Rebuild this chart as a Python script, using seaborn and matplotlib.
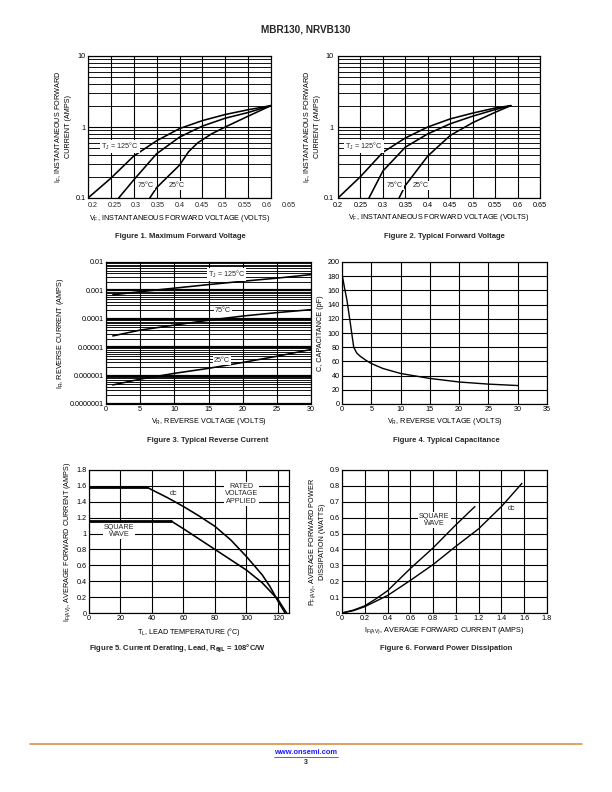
import numpy as np
import pandas as pd
import matplotlib
matplotlib.use('Agg')
import matplotlib.pyplot as plt
import seaborn as sns
from matplotlib.ticker import LogLocator, NullFormatter, FixedLocator

# figure 1 - maximum forward voltage
f1_125_v = [0.20, 0.25, 0.30, 0.35, 0.40, 0.45, 0.50, 0.55, 0.60]
f1_125_i = [0.10, 0.19, 0.39, 0.64, 0.95, 1.23, 1.50, 1.75, 2.00]
f1_75_v = [0.267, 0.30, 0.35, 0.40, 0.45, 0.50, 0.55, 0.60]
f1_75_i = [0.10, 0.18, 0.42, 0.72, 1.03, 1.33, 1.60, 2.00]
f1_25_v = [0.335, 0.35, 0.40, 0.42, 0.44, 0.47, 0.50, 0.55, 0.60]
f1_25_i = [0.10, 0.14, 0.29, 0.45, 0.60, 0.80, 1.00, 1.42, 2.00]

# figure 2 - typical forward voltage
f2_125_v = [0.20, 0.25, 0.30, 0.35, 0.40, 0.45, 0.50, 0.55, 0.585]
f2_125_i = [0.10, 0.20, 0.44, 0.70, 1.00, 1.30, 1.57, 1.85, 2.00]
f2_75_v = [0.269, 0.30, 0.35, 0.40, 0.45, 0.50, 0.55, 0.585]
f2_75_i = [0.10, 0.24, 0.52, 0.80, 1.11, 1.42, 1.76, 2.00]
f2_25_v = [0.336, 0.35, 0.40, 0.45, 0.50, 0.55, 0.585]
f2_25_i = [0.10, 0.15, 0.39, 0.76, 1.15, 1.61, 2.00]

vf_labels = ['0.2', '0.25', '0.3', '0.35', '0.4', '0.45', '0.5', '0.55', '0.6', '0.65']

# figure 3 - typical reverse current
f3_vr = [1, 5, 10, 15, 20, 25, 30]
f3_125 = [7.0e-4, 9.0e-4, 1.2e-3, 1.6e-3, 2.1e-3, 2.7e-3, 3.6e-3]
f3_75 = [2.5e-5, 4.0e-5, 6.0e-5, 8.9e-5, 1.25e-4, 1.65e-4, 2.1e-4]
f3_25 = [4.7e-7, 7.5e-7, 1.2e-6, 1.8e-6, 2.9e-6, 4.8e-6, 8.3e-6]
ir_labels = ['0.0000001', '0.000001', '0.00001', '0.0001', '0.001', '0.01']

# figure 4 - typical capacitance
f4_vr = [0, 0.4, 0.85, 1.4, 2.0, 2.5, 3.0, 4.0, 5.0, 7.0, 10, 15, 20, 25, 30]
f4_c = [183, 165, 146, 115, 80, 72, 68, 62, 57, 50, 43, 36, 31, 28, 26]

# figure 5 - current derating
f5_dc_t = [0, 37, 50, 60, 70, 80, 90, 100, 110, 115, 120, 124.5]
f5_dc_i = [1.58, 1.58, 1.45, 1.34, 1.22, 1.09, 0.92, 0.71, 0.48, 0.33, 0.15, 0.0]
f5_sq_t = [0, 52, 60, 70, 80, 90, 100, 110, 120, 125.5]
f5_sq_i = [1.16, 1.16, 1.06, 0.93, 0.80, 0.67, 0.54, 0.38, 0.17, 0.0]

# figure 6 - forward power dissipation
f6_sq_i = [0, 0.1, 0.2, 0.3, 0.4, 0.6, 0.8, 1.0, 1.167]
f6_sq_p = [0, 0.018, 0.045, 0.09, 0.14, 0.28, 0.41, 0.555, 0.67]
f6_dc_i = [0, 0.1, 0.2, 0.4, 0.6, 0.8, 1.0, 1.2, 1.4, 1.58]
f6_dc_p = [0, 0.015, 0.04, 0.11, 0.205, 0.305, 0.42, 0.53, 0.67, 0.816]

sns.set_style('white')
plt.rcParams['font.family'] = ['Liberation Sans', 'DejaVu Sans']
plt.rcParams['mathtext.fontset'] = 'custom'
plt.rcParams['mathtext.rm'] = 'Liberation Sans'
plt.rcParams['mathtext.it'] = 'Liberation Sans'

fig = plt.figure(figsize=(8.5, 11), dpi=72)
W, H = 612.0, 792.0


def make_ax(l, r, t, b):
    ax = fig.add_axes([l / W, 1 - b / H, (r - l) / W, (b - t) / H])
    for s in ax.spines.values():
        s.set_color('black')
        s.set_linewidth(1.2)
    ax.tick_params(axis='both', length=0, labelsize=7.3, pad=2.5, colors='black')
    return ax


def curve(ax, x, y, lw=1.6):
    sns.lineplot(x=x, y=y, ax=ax, color='black', lw=lw, sort=False, estimator=None)


def tag(ax, x, y, s, **kw):
    ax.text(x, y, s, fontsize=7.2, ha='center', va='center',
            bbox=dict(fc='white', ec='none', pad=1), zorder=5, **kw)


def log_grid(ax):
    ax.yaxis.set_minor_locator(LogLocator(base=10, subs=np.arange(2, 10)))
    ax.yaxis.set_minor_formatter(NullFormatter())
    ax.grid(True, which='major', axis='both', color='black', lw=1.1)
    ax.grid(True, which='minor', axis='y', color='black', lw=0.9)
    ax.tick_params(which='minor', length=0)


lab = dict(fontsize=7.2, color='black')

# ---------- Figure 1
ax1 = make_ax(88, 271, 56, 198)
ax1.set_yscale('log')
curve(ax1, f1_125_v, f1_125_i)
curve(ax1, f1_75_v, f1_75_i)
curve(ax1, f1_25_v, f1_25_i)
ax1.set_xlim(0.2, 0.6)
ax1.set_ylim(0.1, 10)
ax1.xaxis.set_major_locator(FixedLocator(np.linspace(0.2, 0.6, 9)))
ax1.set_xticklabels([])
ax1.set_yticks([0.1, 1, 10], ['0.1', '1', '10'])
log_grid(ax1)
# datasheet tick labels do not line up with the grid
for k, s in enumerate(vf_labels):
    ax1.text(0.025 + k * 0.119, -0.03, s, transform=ax1.transAxes,
             ha='center', va='top', fontsize=7.3, clip_on=False)
ax1.set_xlabel(r'V$_\mathregular{F}$, INSTANTANEOUS FORWARD VOLTAGE (VOLTS)', labelpad=12, **lab)
ax1.set_ylabel('I$_\\mathregular{F}$, INSTANTANEOUS FORWARD\nCURRENT (AMPS)', labelpad=3, **lab)
tag(ax1, 0.27, 0.535, r'T$_\mathregular{J}$ = 125°C')
tag(ax1, 0.327, 0.15, '75°C')
tag(ax1, 0.395, 0.15, '25°C')

# ---------- Figure 2
ax2 = make_ax(338, 540, 56, 198)
ax2.set_yscale('log')
curve(ax2, f2_125_v, f2_125_i)
curve(ax2, f2_75_v, f2_75_i)
curve(ax2, f2_25_v, f2_25_i)
ax2.set_xlim(0.2, 0.65)
ax2.set_ylim(0.1, 10)
ax2.set_xticks(np.linspace(0.2, 0.65, 10), vf_labels)
ax2.set_yticks([0.1, 1, 10], ['0.1', '1', '10'])
log_grid(ax2)
ax2.tick_params(axis='x', pad=4)
ax2.tick_params(axis='y', pad=4)
ax2.set_xlabel(r'V$_\mathregular{F}$, INSTANTANEOUS FORWARD VOLTAGE (VOLTS)', labelpad=3, **lab)
ax2.set_ylabel('I$_\\mathregular{F}$, INSTANTANEOUS FORWARD\nCURRENT (AMPS)', labelpad=3, **lab)
tag(ax2, 0.258, 0.53, r'T$_\mathregular{J}$ = 125°C')
tag(ax2, 0.327, 0.15, '75°C')
tag(ax2, 0.385, 0.15, '25°C')

# ---------- Figure 3
ax3 = make_ax(106, 311, 262, 404)
ax3.set_yscale('log')
curve(ax3, f3_vr, f3_125)
curve(ax3, f3_vr, f3_75)
curve(ax3, f3_vr, f3_25)
ax3.set_xlim(0, 30)
ax3.set_ylim(1e-7, 1e-2)
ax3.set_xticks(range(0, 31, 5))
ax3.set_yticks([1e-7, 1e-6, 1e-5, 1e-4, 1e-3, 1e-2], ir_labels)
log_grid(ax3)
ax3.grid(True, which='major', axis='y', color='black', lw=2.2)
ax3.set_xlabel(r'V$_\mathregular{R}$, REVERSE VOLTAGE (VOLTS)', labelpad=3, **lab)
ax3.set_ylabel(r'I$_\mathregular{R}$, REVERSE CURRENT (AMPS)', labelpad=3, **lab)
tag(ax3, 17.6, 3.6e-3, r'T$_\mathregular{J}$ = 125°C')
tag(ax3, 17.1, 1.9e-4, '75°C')
tag(ax3, 17.0, 3.5e-6, '25°C')

# ---------- Figure 4
ax4 = make_ax(342, 547, 262, 404)
curve(ax4, f4_vr, f4_c, lw=1.4)
ax4.set_xlim(0, 35)
ax4.set_ylim(0, 200)
ax4.set_xticks(range(0, 36, 5))
ax4.set_yticks(range(0, 201, 20))
ax4.grid(True, color='black', lw=1.1)
ax4.set_xlabel(r'V$_\mathregular{R}$, REVERSE VOLTAGE (VOLTS)', labelpad=3, **lab)
ax4.set_ylabel('C, CAPACITANCE (pF)', labelpad=3, **lab)

# ---------- Figure 5
ax5 = make_ax(89, 289, 470, 613)
curve(ax5, f5_dc_t[:2], f5_dc_i[:2], lw=2.8)
curve(ax5, f5_dc_t[1:], f5_dc_i[1:])
curve(ax5, f5_sq_t[:2], f5_sq_i[:2], lw=2.8)
curve(ax5, f5_sq_t[1:], f5_sq_i[1:])
ax5.set_xlim(0, 127)
ax5.set_ylim(0, 1.8)
ax5.set_xticks(range(0, 121, 20))
ax5.set_yticks(np.arange(0, 1.81, 0.2),
               ['0', '0.2', '0.4', '0.6', '0.8', '1', '1.2', '1.4', '1.6', '1.8'])
ax5.grid(True, color='black', lw=1.1)
ax5.set_xlabel(r'T$_\mathregular{L}$, LEAD TEMPERATURE (°C)', labelpad=3, **lab)
ax5.set_ylabel(r'I$_\mathregular{F(AV)}$, AVERAGE FORWARD CURRENT (AMPS)', labelpad=3, **lab)
tag(ax5, 97, 1.5, 'RATED\nVOLTAGE\nAPPLIED', linespacing=1.1)
tag(ax5, 53.7, 1.51, 'dc')
tag(ax5, 19, 1.03, 'SQUARE\nWAVE', linespacing=1.1)

# ---------- Figure 6
ax6 = make_ax(342, 547, 470, 613)
curve(ax6, f6_sq_i, f6_sq_p, lw=1.4)
curve(ax6, f6_dc_i, f6_dc_p, lw=1.4)
ax6.set_xlim(0, 1.8)
ax6.set_ylim(0, 0.9)
ax6.set_xticks(np.arange(0, 1.81, 0.2),
               ['0', '0.2', '0.4', '0.6', '0.8', '1', '1.2', '1.4', '1.6', '1.8'])
ax6.set_yticks(np.arange(0, 0.91, 0.1),
               ['0', '0.1', '0.2', '0.3', '0.4', '0.5', '0.6', '0.7', '0.8', '0.9'])
ax6.grid(True, color='black', lw=1.1)
ax6.set_xlabel(r'I$_\mathregular{F(AV)}$, AVERAGE FORWARD CURRENT (AMPS)', labelpad=3, **lab)
ax6.set_ylabel('P$_\\mathregular{F(AV)}$, AVERAGE FORWARD POWER\nDISSIPATION (WATTS)', labelpad=3, **lab)
tag(ax6, 0.81, 0.585, 'SQUARE\nWAVE', linespacing=1.1)
tag(ax6, 1.485, 0.66, 'dc')

# ---------- page text
fig.text(306 / W, 1 - 30 / H, 'MBR130, NRVB130', ha='center', va='center',
         fontsize=10, fontweight='bold')
caps = [(180, 237, 'Figure 1. Maximum Forward Voltage'),
        (444, 237, 'Figure 2. Typical Forward Voltage'),
        (208, 440, 'Figure 3. Typical Reverse Current'),
        (446, 440, 'Figure 4. Typical Capacitance'),
        (177, 648, r'Figure 5. Current Derating, Lead, R$_\mathbf{\theta JL}$ = 108°C/W'),
        (446, 648, 'Figure 6. Forward Power Dissipation')]
for x, y, s in caps:
    fig.text(x / W, 1 - y / H, s, ha='center', va='center', fontsize=7.6, fontweight='bold')

fig.add_artist(plt.Line2D([30 / W, 582 / W], [1 - 744 / H, 1 - 744 / H],
                          color='#d9832e', lw=1.5))
fig.text(306 / W, 1 - 752 / H, 'www.onsemi.com', ha='center', va='center',
         fontsize=7.5, fontweight='bold', color='#1a1aff')
fig.add_artist(plt.Line2D([274 / W, 338 / W], [1 - 757 / H, 1 - 757 / H],
                          color='#1a1aff', lw=0.7))
fig.text(306 / W, 1 - 763 / H, '3', ha='center', va='center', fontsize=7, fontweight='bold')

fig.savefig('out.png', dpi=72)
